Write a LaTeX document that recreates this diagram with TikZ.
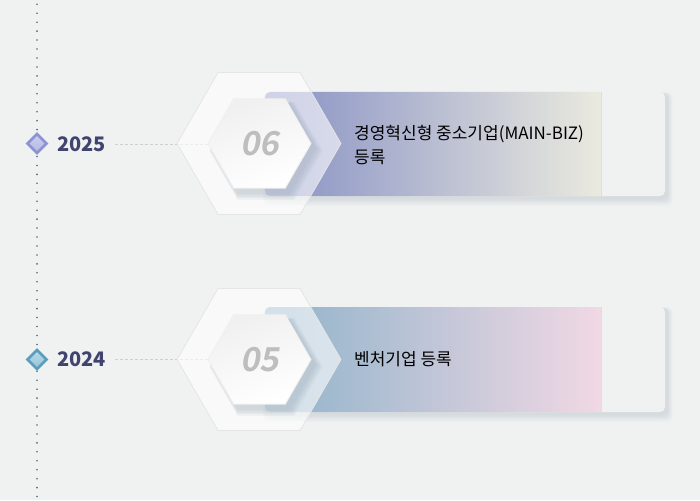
\documentclass[tikz,border=0pt]{standalone}
\usepackage{fontspec}
\setmainfont{Noto Sans CJK KR}
\newfontfamily\numfont[FakeSlant=0.18]{Noto Sans CJK KR Bold}
\usetikzlibrary{shapes.geometric}
\definecolor{fondo}{HTML}{F0F2F1}
\definecolor{puntos}{HTML}{5A6478}
\definecolor{anio}{HTML}{41446F}
\definecolor{guia}{HTML}{CDD0D0}
\definecolor{panel}{HTML}{F0F2F2}
\definecolor{sombra}{HTML}{8A9CAB}
\definecolor{numero}{HTML}{BEBEBE}
\definecolor{izqA}{HTML}{8790C4}
\definecolor{derA}{HTML}{EAEADF}
\definecolor{izqB}{HTML}{8FB3CA}
\definecolor{derB}{HTML}{F1D8E4}
\definecolor{rombA}{HTML}{8C93D0}
\definecolor{rombAin}{HTML}{C9CCF0}
\definecolor{rombB}{HTML}{5B9DBD}
\definecolor{rombBin}{HTML}{B4D8E6}

\begin{document}
\begin{tikzpicture}[x=1pt,y=-1pt,
  hexout/.style={regular polygon, regular polygon sides=6, minimum size=164pt,
    inner sep=0pt, draw=white!80!gray, line width=0.8pt, fill=white, fill opacity=0.6},
  hexin/.style={regular polygon, regular polygon sides=6, minimum size=103pt,
    inner sep=0pt, draw=white!88!gray, line width=1pt, top color=white!88!gray,
    bottom color=white, shading angle=20},
  hexsombra/.style={regular polygon, regular polygon sides=6, inner sep=0pt,
    fill=sombra, fill opacity=0.08},
  num/.style={font=\numfont\fontsize{33}{33}\selectfont, text=numero},
  year/.style={font=\fontsize{20}{20}\selectfont\bfseries, text=anio, anchor=west, inner sep=0pt},
  desc/.style={font=\fontsize{17}{24}\selectfont, text=black, anchor=west,
    align=left, inner sep=0pt},
  rombo/.style={diamond, minimum width=23pt, minimum height=23pt, inner sep=0pt},
  guialine/.style={guia, dashed, dash pattern=on 3pt off 2pt, line width=0.6pt}]
  % Fondo
  \fill[fondo] (0,0) rectangle (700,500);
  \useasboundingbox (0,0) rectangle (700,500);
  % Linea de tiempo punteada
  \foreach \k in {0,...,55}
    \fill[puntos] (37,{4.3+8.95*\k}) circle (0.9);

  % 2025
  \node[year] (y25) at (57,144) {2025};
  \coordinate (p6) at (208,144);
  \draw[guialine] (y25.east) ++(9,0) -- (p6);
  \foreach \s in {1,...,6}
    \fill[sombra, opacity=0.045, rounded corners=6pt]
      ({265+1-\s*0.6},{92+2-\s*0.3}) rectangle ({665+2+\s*0.9},{196+2+\s*1.3});
  \fill[panel, rounded corners=5pt] (265,92) rectangle (665,196);
  \begin{scope}
    \clip[rounded corners=5pt] (265,92) rectangle (665,196);
    \shade[left color=izqA, right color=derA] (265,92) rectangle (601,196);
  \end{scope}
  \draw[white!75!gray, line width=0.8pt] (601,92) -- (601,196);
  \node[hexout] (h6) at (259,143.5) {};
  \foreach \s in {1,...,5}
    \node[hexsombra, minimum size={103pt+\s*2pt}] at ({263+\s*0.6},{148+\s*0.6}) {};
  \node[hexin] (c6) at (259.5,143.5) {};
  \node[num] (n6) at (c6) {06};
  \node[desc] (t6) at (354,145) {경영혁신형 중소기업(MAIN-BIZ)\\등록};
  \node[rombo, fill=rombA] (r6) at (37,143.5) {};
  \node[rombo, minimum width=15pt, minimum height=15pt, top color=rombAin,
    bottom color=rombAin!70!rombA] at (r6) {};

  % 2024
  \node[year] (y24) at (57,359.5) {2024};
  \coordinate (p5) at (208,359.5);
  \draw[guialine] (y24.east) ++(9,0) -- (p5);
  \foreach \s in {1,...,6}
    \fill[sombra, opacity=0.045, rounded corners=6pt]
      ({265+1-\s*0.6},{307+2-\s*0.3}) rectangle ({665+2+\s*0.9},{412+2+\s*1.3});
  \fill[panel, rounded corners=5pt] (265,307) rectangle (665,412);
  \begin{scope}
    \clip[rounded corners=5pt] (265,307) rectangle (665,412);
    \shade[left color=izqB, right color=derB] (265,307) rectangle (601,412);
  \end{scope}
  \draw[white!75!gray, line width=0.8pt] (601,307) -- (601,412);
  \node[hexout] (h5) at (259,359.5) {};
  \foreach \s in {1,...,5}
    \node[hexsombra, minimum size={103pt+\s*2pt}] at ({263+\s*0.6},{364+\s*0.6}) {};
  \node[hexin] (c5) at (259.5,359.5) {};
  \node[num] (n5) at (c5) {05};
  \node[desc] (t5) at (354,359.5) {벤처기업 등록};
  \node[rombo, fill=rombB] (r5) at (37,359.5) {};
  \node[rombo, minimum width=15pt, minimum height=15pt, top color=rombBin,
    bottom color=rombBin!70!rombB] at (r5) {};
\end{tikzpicture}
\end{document}
